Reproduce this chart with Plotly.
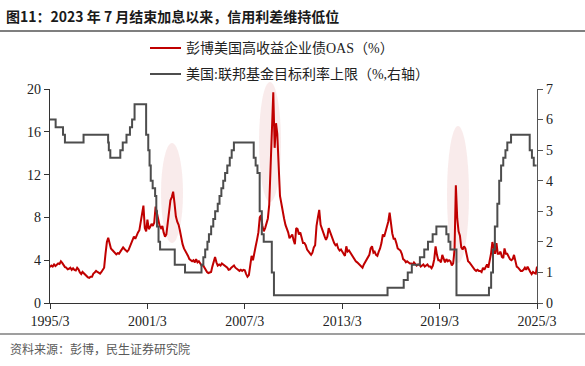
import pandas as pd
import plotly.graph_objects as go

# ---------------- data ----------------
# Bloomberg US High Yield OAS (%), monthly, 1995-03 .. 2025-03
oas_1995_1999 = [3.35, 3.5, 3.4, 3.6, 3.45, 3.6, 3.7, 3.65, 3.9, 3.75,
                 3.55, 3.35, 3.3, 3.15, 3.2, 3.3, 3.1, 3.25, 3.1, 3.05, 3.3, 3.15,
                 2.85, 2.7, 2.9, 2.75, 2.6, 2.45, 2.4, 2.35, 2.45, 2.45, 2.75, 2.85,
                 3.0, 2.9, 2.8, 2.75, 2.9, 3.05, 3.3, 4.6, 5.7, 6.1, 5.4, 5.1,
                 4.95, 4.8, 4.75, 4.55, 4.65, 4.6, 4.8, 5.0, 5.2, 5.05, 4.9, 4.8]
oas_2000_2004 = [4.95, 5.3, 5.6, 5.9, 6.2, 6.0, 6.35, 6.6, 6.8, 7.6, 8.5, 9.1,
                 7.0, 6.7, 7.8, 6.9, 7.1, 7.4, 7.2, 7.5, 9.0, 8.4, 7.6, 7.2,
                 7.0, 7.2, 6.6, 6.2, 6.4, 7.5, 8.8, 9.6, 9.9, 10.4, 9.3, 8.1,
                 7.6, 7.3, 6.8, 6.0, 5.5, 5.1, 4.9, 4.6, 4.4, 4.1, 4.0, 3.9,
                 4.0, 3.8, 4.1, 3.8, 3.9, 3.7, 3.5, 3.55, 3.3, 3.1, 2.9, 2.8]
oas_2005_2009 = [2.85, 2.9, 3.4, 4.0, 4.3, 3.8, 3.5, 3.6, 3.5, 3.7, 3.6, 3.55,
                 3.4, 3.3, 3.1, 3.15, 3.3, 3.4, 3.5, 3.3, 3.2, 3.1, 3.0, 3.1,
                 3.0, 3.1, 3.05, 2.7, 2.45, 2.6, 3.6, 4.4, 4.0, 4.5, 5.3, 5.9,
                 6.6, 8.0, 8.2, 7.2, 6.7, 7.0, 7.5, 7.9, 9.2, 12.8, 15.3, 19.7,
                 14.5, 16.8, 15.8, 12.5, 10.0, 9.3, 8.5, 7.9, 7.3, 7.0, 6.6, 6.05]
oas_2010_2014 = [6.2, 6.4, 5.9, 5.5, 7.0, 6.9, 6.4, 6.6, 6.1, 5.6, 5.6, 5.4,
                 5.0, 4.8, 4.7, 4.5, 4.7, 5.2, 5.4, 7.2, 8.0, 8.7, 7.3, 7.0,
                 6.6, 6.2, 5.9, 6.2, 7.0, 6.6, 6.3, 5.8, 5.6, 5.4, 5.5, 5.1,
                 4.9, 5.0, 4.8, 4.6, 4.4, 5.3, 4.8, 4.9, 4.7, 4.4, 4.2, 4.0,
                 3.9, 3.8, 3.7, 3.5, 3.4, 3.3, 3.6, 3.8, 4.1, 4.3, 4.5, 5.1]
oas_2015_2019 = [5.3, 4.7, 4.8, 4.5, 4.4, 4.8, 5.1, 5.6, 6.4, 6.2, 6.6, 7.0,
                 7.6, 8.45, 7.3, 6.5, 6.0, 6.0, 5.6, 5.1, 5.0, 4.9, 4.6, 4.1,
                 4.0, 3.8, 3.9, 3.8, 3.7, 3.7, 3.6, 3.8, 3.6, 3.5, 3.6, 3.6,
                 3.4, 3.5, 3.6, 3.4, 3.5, 3.6, 3.4, 3.4, 3.25, 3.5, 4.1, 5.3,
                 4.5, 4.0, 4.0, 3.8, 4.5, 4.1, 3.8, 4.1, 3.9, 4.0, 3.9, 3.5]
oas_2020_2025 = [3.7, 5.0, 11.0, 7.9, 6.7, 6.3, 5.2, 5.0, 5.3, 5.1, 4.3, 3.9,
                 3.8, 3.6, 3.4, 3.2, 3.1, 3.0, 3.1, 3.0, 3.0, 2.9, 3.3, 3.1,
                 3.4, 3.6, 3.3, 3.9, 4.6, 5.7, 5.0, 4.6, 5.6, 4.6, 4.6, 4.8,
                 4.3, 4.2, 5.1, 4.6, 4.6, 4.3, 4.1, 4.0, 4.1, 4.5, 3.9, 3.4,
                 3.3, 3.1, 3.0, 3.0, 3.1, 3.3, 3.1, 3.4, 3.1, 2.9, 2.7, 2.9,
                 2.8, 2.75, 3.4]

# Fed funds target upper bound (%), change dates and levels
ffr_dates = ["1995-03-01", "1995-07-06", "1995-12-19", "1996-01-31", "1997-03-25",
             "1998-09-29", "1998-10-15", "1998-11-17", "1999-06-30", "1999-08-24",
             "1999-11-16", "2000-02-02", "2000-03-21", "2000-05-16", "2001-01-31",
             "2001-03-20", "2001-04-18", "2001-05-15", "2001-06-27", "2001-08-21",
             "2001-09-17", "2001-10-02", "2001-11-06", "2001-12-11", "2002-11-06",
             "2003-06-25", "2004-06-30", "2004-08-10", "2004-09-21", "2004-11-10",
             "2004-12-14", "2005-02-02", "2005-03-22", "2005-05-03", "2005-06-30",
             "2005-08-09", "2005-09-20", "2005-11-01", "2005-12-13", "2006-01-31",
             "2006-03-28", "2006-05-10", "2006-06-29", "2007-09-18", "2007-10-31",
             "2007-12-11", "2008-01-30", "2008-03-18", "2008-04-30", "2008-10-29",
             "2008-12-16", "2015-12-16", "2016-12-14", "2017-03-15", "2017-06-14",
             "2017-12-13", "2018-03-21", "2018-06-13", "2018-09-26", "2018-12-19",
             "2019-07-31", "2019-09-18", "2019-10-30", "2020-03-15", "2022-03-16",
             "2022-05-04", "2022-06-15", "2022-07-27", "2022-09-21", "2022-11-02",
             "2022-12-14", "2023-02-01", "2023-03-22", "2023-05-03", "2023-07-26",
             "2024-09-18", "2024-11-07", "2024-12-18", "2025-02-20"]
ffr_values = [6.0, 5.75, 5.5, 5.25, 5.5,
              5.25, 5.0, 4.75, 5.0, 5.25,
              5.5, 5.75, 6.0, 6.5, 5.5,
              5.0, 4.5, 4.0, 3.75, 3.5,
              3.0, 2.5, 2.0, 1.75, 1.25,
              1.0, 1.25, 1.5, 1.75, 2.0,
              2.25, 2.5, 2.75, 3.0, 3.25,
              3.5, 3.75, 4.0, 4.25, 4.5,
              4.75, 5.0, 5.25, 4.75, 4.5,
              4.25, 3.0, 2.25, 2.0, 1.0,
              0.25, 0.5, 0.75, 1.0, 1.25,
              1.5, 1.75, 2.0, 2.25, 2.5,
              2.25, 2.0, 1.75, 0.25, 0.5,
              1.0, 1.75, 2.5, 3.25, 4.0,
              4.5, 4.75, 5.0, 5.25, 5.5,
              5.0, 4.75, 4.5, 4.5]

x_tick_dates = ["1995-03-01", "2001-03-01", "2007-03-01", "2013-03-01", "2019-03-01", "2025-03-01"]
x_tick_labels = ["1995/3", "2001/3", "2007/3", "2013/3", "2019/3", "2025/3"]

title_text = "图11：2023 年 7 月结束加息以来，信用利差维持低位"
source_text = "资料来源：彭博，民生证券研究院"
name_oas = "彭博美国高收益企业债OAS（%）"
name_ffr = "美国:联邦基金目标利率上限（%,右轴）"

# ---------------- figure ----------------
oas = oas_1995_1999 + oas_2000_2004 + oas_2005_2009 + oas_2010_2014 + oas_2015_2019 + oas_2020_2025
oas_dates = pd.date_range("1995-03-01", periods=len(oas), freq="MS")

RED = "#c00000"
GRAY = "#4d4d4d"
W, H = 585, 366
L, R, T, B = 50, 48, 89, 63
PW, PH = W - L - R, H - T - B


def px(x):
    return (x - L) / PW


def py(y):
    return (H - B - y) / PH


fig = go.Figure()
fig.add_trace(go.Scatter(x=ffr_dates, y=ffr_values, mode="lines", line=dict(color=GRAY, width=2, shape="hv"),
                         yaxis="y2", name=name_ffr, showlegend=False))
fig.add_trace(go.Scatter(x=oas_dates, y=oas, mode="lines", line=dict(color=RED, width=2),
                         name=name_oas, showlegend=False))

tickfont = dict(family="Liberation Serif, Times New Roman, serif", size=14, color="#222")
fig.update_layout(
    width=W, height=H,
    margin=dict(l=L, r=R, t=T, b=B),
    paper_bgcolor="white", plot_bgcolor="white",
    xaxis=dict(type="date", range=["1995-03-01", "2025-03-01"], tickvals=x_tick_dates, ticktext=x_tick_labels,
               showgrid=False, zeroline=False, showline=True, linecolor="#333", linewidth=1.2,
               ticks="outside", ticklen=5, tickcolor="#333", tickfont=tickfont),
    yaxis=dict(range=[0, 20], tickvals=[0, 4, 8, 12, 16, 20], showgrid=False, zeroline=False,
               showline=True, linecolor="#333", linewidth=1.2, ticks="outside", ticklen=5,
               tickcolor="#333", tickfont=tickfont),
    yaxis2=dict(range=[0, 7], tickvals=[0, 1, 2, 3, 4, 5, 6, 7], overlaying="y", side="right",
                showgrid=False, zeroline=False, showline=True, linecolor="#555", linewidth=1.2,
                ticks="outside", ticklen=5, tickcolor="#555", tickfont=tickfont),
    showlegend=False,
)

shapes = []
ell = dict(type="circle", xref="paper", yref="paper", layer="below",
           fillcolor="rgba(235,190,190,0.3)", line=dict(width=0))
for (x0, y0, x1, y1) in [(161, 143, 183, 243), (259, 82, 281, 202), (447, 126, 469, 263)]:
    shapes.append(dict(ell, x0=px(x0), x1=px(x1), y0=py(y1), y1=py(y0)))

# title underline and source separator
shapes.append(dict(type="line", xref="paper", yref="paper", x0=px(0), x1=px(W), y0=py(31), y1=py(31),
                   line=dict(color="#7f7f7f", width=2)))
shapes.append(dict(type="line", xref="paper", yref="paper", x0=px(0), x1=px(W), y0=py(334), y1=py(334),
                   line=dict(color="#7f7f7f", width=1.5)))
# legend samples
shapes.append(dict(type="line", xref="paper", yref="paper", x0=px(150), x1=px(181), y0=py(48), y1=py(48),
                   line=dict(color=RED, width=2)))
shapes.append(dict(type="line", xref="paper", yref="paper", x0=px(150), x1=px(181), y0=py(74), y1=py(74),
                   line=dict(color=GRAY, width=2)))

legfont = dict(family="Liberation Serif, Noto Sans CJK SC, serif", size=14, color="#222")
annotations = [
    dict(text=f"<b>{title_text}</b>", xref="paper", yref="paper", x=px(4), y=py(16), xanchor="left",
         yanchor="middle", showarrow=False, font=dict(family="Noto Sans CJK SC, sans-serif", size=14, color="#1a1a1a")),
    dict(text=source_text, xref="paper", yref="paper", x=px(8), y=py(348), xanchor="left", yanchor="middle",
         showarrow=False, font=dict(family="Noto Sans CJK SC, sans-serif", size=12, color="#595959")),
    dict(text=name_oas, xref="paper", yref="paper", x=px(184), y=py(48), xanchor="left", yanchor="middle",
         showarrow=False, font=legfont),
    dict(text=name_ffr, xref="paper", yref="paper", x=px(184), y=py(74), xanchor="left", yanchor="middle",
         showarrow=False, font=legfont),
]
fig.update_layout(shapes=shapes, annotations=annotations)

fig.write_html("out.html", config={"displayModeBar": False},
               post_script="document.body.style.margin='0';document.body.style.overflow='hidden';")
